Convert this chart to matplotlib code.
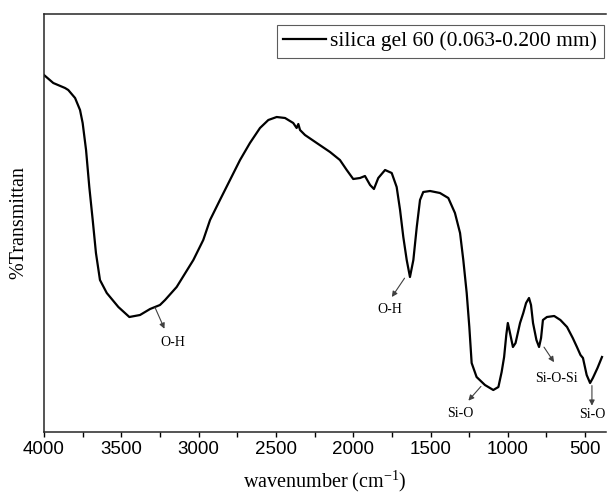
import numpy as np
import matplotlib
matplotlib.use("Agg")
import matplotlib.pyplot as plt
from matplotlib.ticker import MultipleLocator

plt.rcParams["mathtext.fontset"] = "custom"
plt.rcParams["mathtext.rm"] = "Liberation Serif"
plt.rcParams["mathtext.it"] = "Liberation Serif:italic"

# FTIR spectrum of silica gel 60 (pixel rows of the curve)
wavenumber = [4000, 3940, 3864, 3843, 3799, 3767, 3750, 3728, 3707, 3685,
              3664, 3638, 3594, 3519, 3448, 3379, 3314, 3250, 3217, 3142,
              3034, 2970, 2926, 2862, 2797, 2732, 2668, 2603, 2549, 2495,
              2441, 2388, 2366, 2355, 2344, 2312, 2236, 2150, 2086, 2042,
              2000, 1956, 1924, 1891, 1866, 1838, 1794, 1751, 1719, 1697,
              1676, 1654, 1633, 1611, 1589, 1568, 1547, 1503, 1439, 1385,
              1342, 1309, 1288, 1266, 1249, 1234, 1202, 1148, 1094, 1061,
              1040, 1024, 1010, 1000, 990, 967, 950, 921, 900, 882,
              863, 850, 837, 815, 798, 785, 773, 747, 700, 660,
              617, 580, 553, 530, 514, 490, 468, 450, 420, 391]
pixel_y = [75, 83, 88, 90, 98, 110, 123, 150, 187, 220,
           253, 280, 293, 307, 317, 315, 309, 305, 300, 287,
           260, 240, 220, 200, 180, 160, 143, 128, 120, 117,
           118, 123, 128, 124, 130, 135, 143, 152, 160, 170,
           179, 178, 176, 185, 189, 178, 170, 173, 187, 210,
           237, 260, 277, 260, 227, 200, 192, 191, 193, 198,
           213, 233, 260, 293, 327, 363, 377, 385, 390, 387,
           372, 357, 335, 323, 330, 347, 343, 323, 313, 303,
           298, 305, 323, 340, 347, 338, 320, 317, 316, 320,
           327, 338, 347, 355, 358, 375, 383, 378, 368, 357]
transmittance = [(432 - p) / 4.18 for p in pixel_y]

# band assignments: label, label position, arrow start, arrow end
band_labels = ["O-H", "O-H", "Si-O", "Si-O-Si", "Si-O"]
label_pos = [(3166, 21.5), (1762, 29.2), (1309, 4.5), (688, 12.7), (456, 4.3)]
arrow_from = [(3282, 29.8), (1668, 36.8), (1174, 10.9), (766, 20.3), (456, 11.1)]
arrow_to = [(3221, 24.7), (1750, 32.3), (1255, 7.5), (701, 16.7), (456, 6.3)]

serif = "Liberation Serif"
sans = "Liberation Sans"

fig = plt.figure(figsize=(6.07, 4.97), dpi=100)
ax = fig.add_axes([44 / 607, 65 / 497, 562 / 607, 418 / 497])

ax.plot(wavenumber, transmittance, color="black", lw=1.6,
        label="silica gel 60 (0.063-0.200 mm)")

for lab, lp, a0, a1 in zip(band_labels, label_pos, arrow_from, arrow_to):
    ax.annotate("", xy=a1, xytext=a0,
                arrowprops=dict(arrowstyle="-|>", color="0.25", lw=0.8,
                                mutation_scale=8, shrinkA=0, shrinkB=0))
    ax.text(lp[0], lp[1], lab, ha="center", va="center", fontsize=10,
            family=serif, clip_on=False)

ax.set_xlim(4000, 365)
ax.set_ylim(0, 100)
ax.xaxis.set_major_locator(MultipleLocator(500))
ax.xaxis.set_minor_locator(MultipleLocator(250))
ax.tick_params(axis="x", which="both", direction="out", length=3.5, width=1,
               labelsize=13.5, pad=3)
ax.set_yticks([])
for lbl in ax.get_xticklabels():
    lbl.set_family(sans)
ax.spines["right"].set_visible(False)
for s in ["left", "bottom", "top"]:
    ax.spines[s].set_linewidth(1.1)
    ax.spines[s].set_color("0.15")

ax.set_xlabel("wavenumber (cm$^{\\mathrm{-1}}$)", family=serif, fontsize=14.5,
              labelpad=8)
ax.set_ylabel("%Transmittan", family=serif, fontsize=14.5, labelpad=11)

leg = ax.legend(loc="upper right", bbox_to_anchor=(0.996, 0.974),
                borderaxespad=0, fancybox=False, handlelength=2.0,
                prop={"family": serif, "size": 15.5}, borderpad=0.3,
                handletextpad=0.2)
leg.get_frame().set_edgecolor("0.2")
leg.get_frame().set_linewidth(0.8)

fig.savefig("out.png", dpi=100)
